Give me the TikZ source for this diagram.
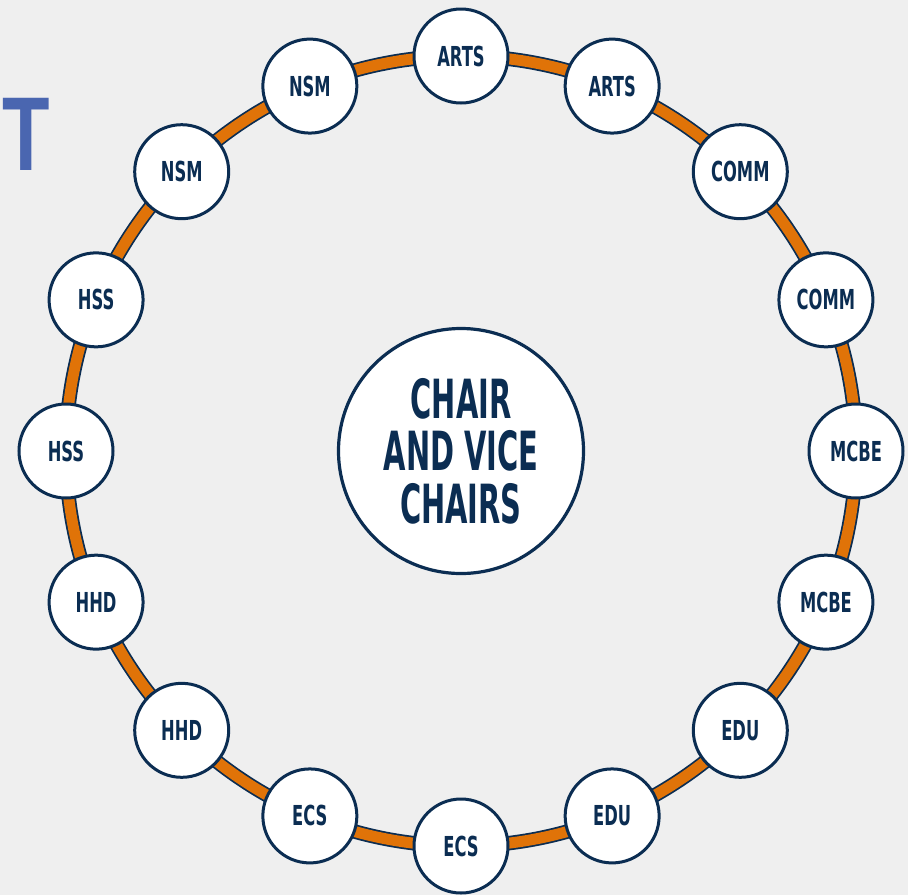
\documentclass[tikz,border=0pt]{standalone}
\usepackage{fontspec}
\usepackage{graphicx}
\newfontfamily\cond{DejaVu Sans Condensed Bold}
\newfontfamily\tfont{Liberation Sans Bold}
\definecolor{navy}{HTML}{0B2D52}
\definecolor{ringorange}{HTML}{E07308}
\definecolor{bg}{HTML}{EFEFEF}
\definecolor{tblue}{HTML}{4A66B0}
\newcommand{\smalllbl}[1]{\scalebox{0.66}[1]{\fontsize{27.5}{27.5}\selectfont\cond #1}}
\newcommand{\hublbl}[1]{\scalebox{0.595}[1]{\fontsize{54}{54}\selectfont\cond #1}}
\begin{document}
\begin{tikzpicture}[x=1pt,y=-1pt,
  unit/.style={circle, draw=navy, line width=3pt, fill=white, minimum size=94pt, inner sep=0pt, text=navy},
  hub/.style={circle, draw=navy, line width=3.2pt, fill=white, minimum size=245pt, inner sep=0pt},
  hubtext/.style={anchor=base, inner sep=0pt, text=navy}]
\useasboundingbox (0,0) rectangle (908,895);
\fill[bg] (0,0) rectangle (908,895);
\coordinate (c) at (461,451);
% title fragment
\node[anchor=base west, inner sep=0pt, text=tblue] (title) at (2,170) {\scalebox{0.74}[1]{\fontsize{105}{105}\selectfont\tfont T}};
% ring
\draw[navy, line width=14.5pt] (c) circle[radius=395];
\draw[ringorange, line width=11pt] (c) circle[radius=395];
% hub
\node[hub] (hubnode) at (c) {};
\node[hubtext] (h1) at (461,418) {\hublbl{CHAIR}};
\node[hubtext] (h2) at (461,470) {\hublbl{AND VICE}};
\node[hubtext] (h3) at (461,523) {\hublbl{CHAIRS}};
% units
\foreach \a/\t/\n in {90/ARTS/n1, 67.5/ARTS/n2, 45/COMM/n3, 22.5/COMM/n4, 0/MCBE/n5, -22.5/MCBE/n6, -45/EDU/n7, -67.5/EDU/n8, -90/ECS/n9, -112.5/ECS/n10, -135/HHD/n11, -157.5/HHD/n12, 180/HSS/n13, 157.5/HSS/n14, 135/NSM/n15, 112.5/NSM/n16}{
  \node[unit] (\n) at ({461+395*cos(\a)},{451-395*sin(\a)}) {\smalllbl{\t}};
}
\end{tikzpicture}
\end{document}
